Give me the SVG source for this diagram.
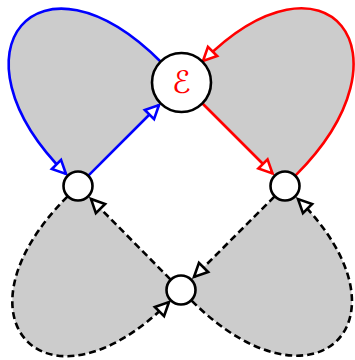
<svg xmlns="http://www.w3.org/2000/svg" width="355" height="360" viewBox="0 0 355 360">
<style>
.fill{fill:#cccccc;stroke:none}
.e{fill:none;stroke-width:2.6}
.b{stroke:#0000ff}
.r{stroke:#ff0000}
.k{stroke:#000000;stroke-dasharray:7 4}
.node circle{fill:#ffffff;stroke:#000000;stroke-width:2.6}
.lbl{font-family:"DejaVu Serif","DejaVu Sans",serif;font-size:31px;fill:#ff0000}
</style>
<defs>
<marker id="ab" markerUnits="userSpaceOnUse" markerWidth="18" markerHeight="18" refX="15" refY="8" orient="auto" overflow="visible"><path d="M1.5,1.5 L15,8 L1.5,14.5 Z" fill="#ffffff" stroke="#0000ff" stroke-width="2.6"/></marker>
<marker id="ar" markerUnits="userSpaceOnUse" markerWidth="18" markerHeight="18" refX="15" refY="8" orient="auto" overflow="visible"><path d="M1.5,1.5 L15,8 L1.5,14.5 Z" fill="#ffffff" stroke="#ff0000" stroke-width="2.6"/></marker>
<marker id="ak" markerUnits="userSpaceOnUse" markerWidth="18" markerHeight="18" refX="15" refY="8" orient="auto" overflow="visible"><path d="M1.5,1.5 L15,8 L1.5,14.5 Z" fill="#ffffff" stroke="#000000" stroke-width="2.6"/></marker>
</defs>
<g id="regions">
<path class="fill" d="M181.5,82.5 L161,62 C38,-61 -57,51 66,174 L78,186 Z"/>
<path class="fill" d="M181.5,82.5 L203,61 C326,-62 418.6,52.4 295.6,175.4 L285,186 Z"/>
<path class="fill" d="M78,186 L67.4,196.6 C-54.6,318.6 47,424 169,302 L181,290 Z"/>
<path class="fill" d="M181,290 L191.6,300.6 C313.6,422.6 420,321 298,199 L285,186 Z"/>
</g>
<g id="connectors">
<path class="e b" d="M161,62 C38,-61 -57,51 66,174" marker-end="url(#ab)"/>
<path class="e b" d="M88.6,175.4 L159,105" marker-end="url(#ab)"/>
<path class="e r" d="M295.6,175.4 C418.6,52.4 326,-62 203,61" marker-end="url(#ar)"/>
<path class="e r" d="M202,103 L272.5,173.5" marker-end="url(#ar)"/>
<path class="e k" d="M67.4,196.6 C-54.6,318.6 47,424 169,302" marker-end="url(#ak)"/>
<path class="e k" d="M170.4,279.4 L91,199" marker-end="url(#ak)"/>
<path class="e k" d="M191.6,300.6 C313.6,422.6 420,321 298,199" marker-end="url(#ak)"/>
<path class="e k" d="M274.4,196.6 L194,277" marker-end="url(#ak)"/>
</g>
<g id="nodeE" class="node"><circle cx="181.5" cy="82.5" r="29.5"/><text class="lbl" x="181.5" y="93" text-anchor="middle">ℰ</text></g>
<g id="nodeL" class="node"><circle cx="78" cy="186" r="14.5"/></g>
<g id="nodeR" class="node"><circle cx="285" cy="186" r="14.5"/></g>
<g id="nodeB" class="node"><circle cx="181" cy="290" r="14.5"/></g>
</svg>
